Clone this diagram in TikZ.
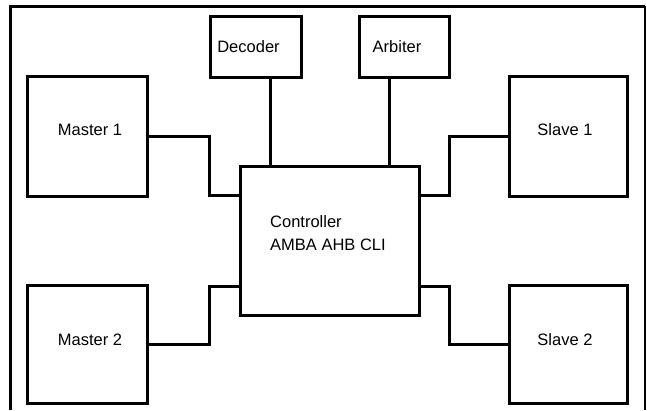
\documentclass[tikz,border=0pt]{standalone}
\usepackage{fontspec}
\setmainfont{Liberation Sans}
\usepackage{tikz}
\usetikzlibrary{positioning,calc}

\begin{document}
\begin{tikzpicture}[x=1pt, y=-1pt,
        blk/.style={draw, line width=3pt, inner sep=0pt},
        txt/.style={inner sep=0pt, font=\fontsize{16.5pt}{20pt}\selectfont},
        wire/.style={line width=3pt}]
        \useasboundingbox (0,0) rectangle (647,410);
        % Frame
        \draw[line width=3pt] (10,410) -- (10,6) -- (645,6);
        \draw[line width=1.5pt] (645,6) -- (645,410);
        % Blocks
        \node[blk, minimum width=91pt, minimum height=61pt] (dec) at (255.5,46.5) {};
        \node[blk, minimum width=90pt, minimum height=61pt] (arb) at (404,46.5) {};
        \node[blk, minimum width=120pt, minimum height=120pt] (m1) at (87,136) {};
        \node[blk, minimum width=120pt, minimum height=118pt] (m2) at (87,344) {};
        \node[blk, minimum width=118pt, minimum height=120pt] (s1) at (568,136) {};
        \node[blk, minimum width=118pt, minimum height=118pt] (s2) at (568,344) {};
        \node[blk, minimum width=179pt, minimum height=149pt] (ctrl) at (329.5,240.5) {};
        % Labels
        \node[txt] (dect) at ([xshift=-7pt]dec) {Decoder};
        \node[txt] (arbt) at ([xshift=-7pt]arb) {Arbiter};
        \node[txt] (m1t) at ([xshift=3pt,yshift=6pt]m1) {Master 1};
        \node[txt] (m2t) at ([xshift=3pt,yshift=4pt]m2) {Master 2};
        \node[txt] (s1t) at ([xshift=-3pt,yshift=6pt]s1) {Slave 1};
        \node[txt] (s2t) at ([xshift=-3pt,yshift=4pt]s2) {Slave 2};
        \node[txt, anchor=base west] (ctrla) at (270,227) {Controller};
        \node[txt, anchor=base west] (ctrlb) at (270,250) {AMBA AHB CLI};
        % Bus connections
        \draw[wire] ([xshift=14.5pt]dec.south) -- ([xshift=-59.5pt]ctrl.north);
        \draw[wire] ([xshift=-15pt]arb.south) -- ([xshift=59.5pt]ctrl.north);
        \draw[wire] (m1.east) -| ([xshift=-29pt,yshift=45.5pt]ctrl.west) -- ([yshift=45.5pt]ctrl.west);
        \draw[wire] (m2.east) -| ([xshift=-29pt,yshift=-45.5pt]ctrl.west) -- ([yshift=-45.5pt]ctrl.west);
        \draw[wire] (s1.west) -| ([xshift=29pt,yshift=45.5pt]ctrl.east) -- ([yshift=45.5pt]ctrl.east);
        \draw[wire] (s2.west) -| ([xshift=29pt,yshift=-45.5pt]ctrl.east) -- ([yshift=-45.5pt]ctrl.east);
    \end{tikzpicture}
\end{document}
